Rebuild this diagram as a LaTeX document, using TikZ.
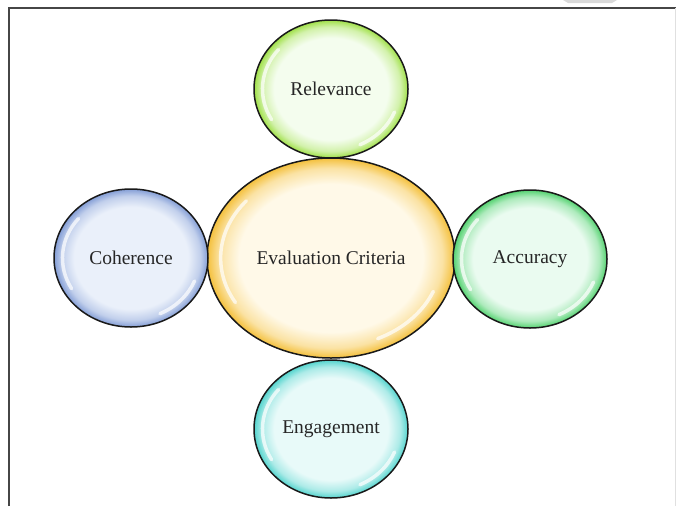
\documentclass[tikz,border=0pt]{standalone}
\usepackage{fontspec}
\setmainfont{Liberation Serif}
\usepackage{tikz}
\usetikzlibrary{shapes.geometric}
\definecolor{framecol}{RGB}{70,70,70}
\definecolor{critrim}{RGB}{244,192,60}
\definecolor{critcore}{RGB}{255,249,232}
\definecolor{relrim}{RGB}{160,224,72}
\definecolor{relcore}{RGB}{244,253,238}
\definecolor{cohrim}{RGB}{132,158,214}
\definecolor{cohcore}{RGB}{234,240,250}
\definecolor{accrim}{RGB}{84,210,112}
\definecolor{acccore}{RGB}{234,251,240}
\definecolor{engrim}{RGB}{84,212,206}
\definecolor{engcore}{RGB}{232,250,249}
\colorlet{rimcol}{black}
\colorlet{midcol}{gray}
\colorlet{corecol}{white}
% glassy bubble fill, recomputed for each rim/core pair
\pgfdeclareradialshading[rimcol,midcol,corecol]{bubble}{\pgfpoint{0bp}{0bp}}{%
  color(0bp)=(corecol); color(18.5bp)=(corecol); color(22.5bp)=(midcol);
  color(25bp)=(rimcol); color(50bp)=(rimcol)}

\tikzset{
  bubble/.style 2 args={ellipse, draw=black!90, line width=1.5pt, shading=bubble,
    /utils/exec={\colorlet{rimcol}{#1}\colorlet{corecol}{#2}\colorlet{midcol}{#1!40!#2}},
    minimum width=154pt, minimum height=138pt, inner sep=0pt,
    font=\fontsize{19.5}{23}\selectfont, text=black!85},
  hub/.style={minimum width=248pt, minimum height=200pt},
  glint/.style={white, line width=3.5pt, line cap=round, opacity=.7},
}

\begin{document}
\begin{tikzpicture}[x=1pt, y=1pt]
  \useasboundingbox (0,0) rectangle (676,-506);
  % page frame
  \fill[black!15] (563,0) -- (617,0) -- (612,-3) -- (568,-3) -- cycle;
  \draw[framecol, line width=1.5pt] (9,-506) -- (9,-8) -- (676,-8);
  \draw[black!12, line width=1pt] (675,-8) -- (675,-506);

  % criteria bubbles
  \node[bubble={relrim}{relcore}] (rel) at (331,-89) {Relevance};
  \node[bubble={critrim}{critcore}, hub] (crit) at (331,-258) {Evaluation Criteria};
  \node[bubble={cohrim}{cohcore}] (coh) at (131,-258) {Coherence};
  \node[bubble={accrim}{acccore}] (acc) at (530,-259) {Accuracy};
  \node[bubble={engrim}{engcore}] (eng) at (331,-429) {Engagement};

  % highlights
  \foreach \n/\rx/\ry in {rel/77/69, crit/124/100, coh/77/69, acc/77/69, eng/77/69}{
    \draw[glint] ([shift={(140:{0.89*\rx} and {0.89*\ry})}]\n.center)
      arc[start angle=140, end angle=210, x radius=0.89*\rx, y radius=0.89*\ry];
    \draw[glint] ([shift={(-65:{0.89*\rx} and {0.89*\ry})}]\n.center)
      arc[start angle=-65, end angle=-22, x radius=0.89*\rx, y radius=0.89*\ry];
  }
\end{tikzpicture}
\end{document}
